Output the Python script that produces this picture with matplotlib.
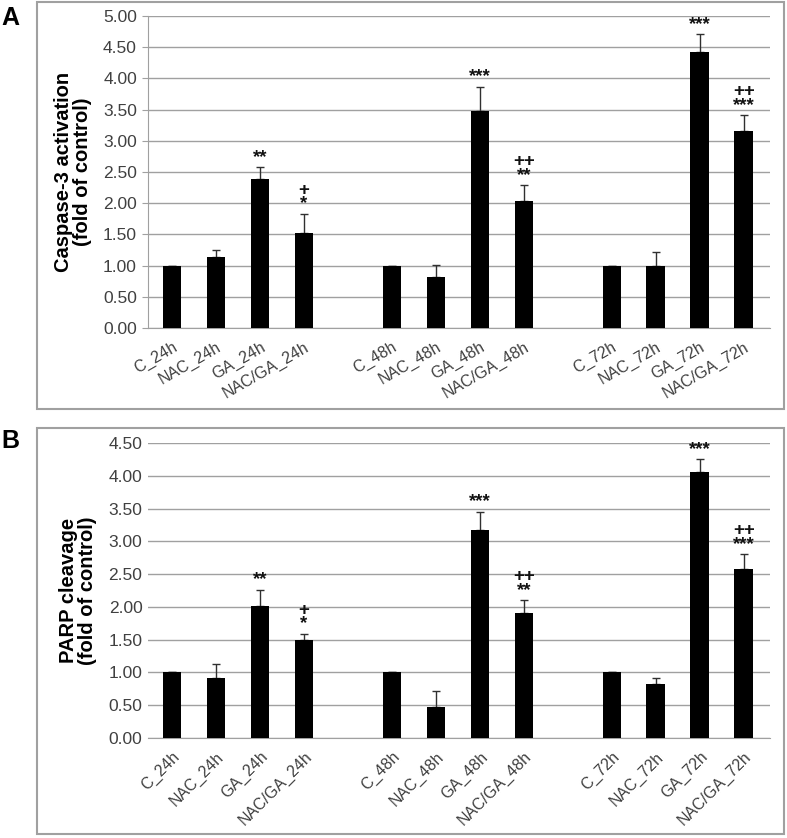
import numpy as np
import matplotlib.pyplot as plt
from matplotlib.patches import Rectangle

plt.rcParams['font.family'] = ['Liberation Sans', 'DejaVu Sans']

labels = ['C_24h', 'NAC_24h', 'GA_24h', 'NAC/GA_24h',
          'C_48h', 'NAC_48h', 'GA_48h', 'NAC/GA_48h',
          'C_72h', 'NAC_72h', 'GA_72h', 'NAC/GA_72h']
pos = [0, 1, 2, 3, 5, 6, 7, 8, 10, 11, 12, 13]

casp = [1.00, 1.14, 2.38, 1.53, 1.00, 0.81, 3.48, 2.03, 1.00, 1.00, 4.42, 3.16]
casp_err = [0.0, 0.11, 0.20, 0.30, 0.0, 0.20, 0.39, 0.26, 0.0, 0.22, 0.29, 0.25]

parp = [1.00, 0.915, 2.02, 1.49, 1.00, 0.47, 3.17, 1.91, 1.00, 0.82, 4.06, 2.58]
parp_err = [0.0, 0.22, 0.24, 0.10, 0.0, 0.25, 0.28, 0.19, 0.0, 0.10, 0.19, 0.22]

marks = ['', '', '**', '+\n*', '', '', '***', '++\n**', '', '', '***', '++\n***']

W, H = 787, 838
fig = plt.figure(figsize=(W / 100, H / 100), dpi=100)

grid_c = '#a0a0a0'
tick_c = '#404040'


def panel(rect, vals, errs, ymax, ylabel, rot, left_spine):
    ax = fig.add_axes(rect)
    ax.bar(pos, vals, width=0.42, color='black', zorder=3)
    ax.errorbar(pos, vals, yerr=[np.zeros(len(errs)), errs], fmt='none',
                ecolor='#303030', elinewidth=1, capsize=3, capthick=1, zorder=2)
    for x, v, e, m in zip(pos, vals, errs, marks):
        if m:
            ax.text(x, v + e + 0.02, m, ha='center', va='bottom', fontsize=13.5,
                    fontweight='bold', linespacing=0.75, color='#111111', zorder=4)
    ax.set_xlim(-0.55, 13.6)
    ax.set_ylim(0, ymax)
    ax.set_yticks(np.arange(0, ymax + 0.01, 0.5))
    ax.set_yticklabels(['%.2f' % t for t in np.arange(0, ymax + 0.01, 0.5)])
    ax.yaxis.grid(True, color=grid_c, lw=1)
    ax.set_axisbelow(True)
    ax.set_xticks(pos)
    ax.set_xticklabels(labels, rotation=rot, ha='right', rotation_mode='anchor')
    ax.tick_params(axis='x', length=0, pad=8, labelsize=11.5, labelcolor=tick_c)
    ax.tick_params(axis='y', length=4 if left_spine else 0, color=grid_c,
                   labelsize=12.5, labelcolor=tick_c, pad=4)
    for s in ['top', 'right']:
        ax.spines[s].set_visible(False)
    ax.spines['left'].set_visible(left_spine)
    ax.spines['left'].set_color(grid_c)
    ax.spines['bottom'].set_color(grid_c)
    ax.set_ylabel(ylabel, fontsize=14.5, fontweight='bold', linespacing=1.0,
                  labelpad=8)
    return ax


panel([148 / W, 1 - 328 / H, 622 / W, 312 / H], casp, casp_err, 5.0,
      'Caspase-3 activation\n(fold of control)', 30, True)
panel([148 / W, 1 - 738 / H, 622 / W, 295 / H], parp, parp_err, 4.5,
      'PARP cleavage\n(fold of control)', 45, False)

# panel frames
for y0, y1 in [(2, 409), (428, 834)]:
    fig.patches.append(Rectangle((37 / W, 1 - y1 / H), (784 - 37) / W, (y1 - y0) / H,
                                 transform=fig.transFigure, fill=False,
                                 edgecolor='#a0a0a0', lw=1.5))

fig.text(1 / W, 1 - 18 / H, 'A', fontsize=18, fontweight='bold', va='center')
fig.text(1 / W, 1 - 441 / H, 'B', fontsize=18, fontweight='bold', va='center')

plt.savefig('out.png', dpi=100)
